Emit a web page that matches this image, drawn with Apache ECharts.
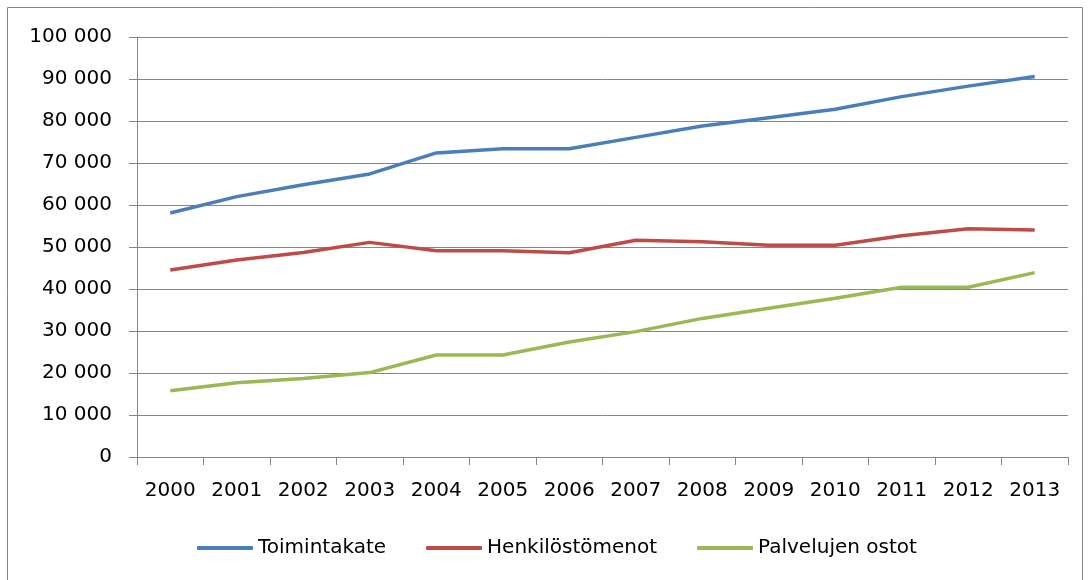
<!DOCTYPE html>
<html><head><meta charset="utf-8">
<script src="https://cdn.jsdelivr.net/npm/echarts@6/dist/echarts.min.js"></script>
<style>html,body{margin:0;padding:0;background:#fff}#c{width:1089px;height:580px}</style>
</head><body><div id="c"></div>
<script>
const years = ['2000','2001','2002','2003','2004','2005','2006','2007','2008','2009','2010','2011','2012','2013'];
const toimintakate = [58100, 62000, 64800, 67400, 72400, 73400, 73400, 76100, 78800, 80800, 82800, 85800, 88300, 90600];
const henkilostomenot = [44500, 46900, 48700, 51100, 49100, 49100, 48650, 51600, 51250, 50400, 50400, 52700, 54350, 54050];
const palvelujenOstot = [15800, 17700, 18700, 20100, 24300, 24300, 27400, 29850, 33000, 35400, 37800, 40400, 40400, 43900];
const seriesNames = ['Toimintakate', 'Henkilöstömenot', 'Palvelujen ostot'];
const colors = ['#4A7EBB', '#BE4B48', '#98B954'];

const fmt = v => String(v).replace(/\B(?=(\d{3})+(?!\d))/g, ' ');
const font = 'DejaVu Sans';
const chart = echarts.init(document.getElementById('c'), null, {renderer: 'canvas'});
const mk = (name, data, i) => ({
  name, type: 'line', data, symbol: 'none', smooth: false,
  lineStyle: {color: colors[i], width: 3.5}, itemStyle: {color: colors[i]}
});
chart.setOption({
  animation: false,
  textStyle: {fontFamily: font},
  graphic: [{type: 'rect', shape: {x: 7.5, y: 7.5, width: 1075, height: 600}, style: {fill: 'none', stroke: '#868686', lineWidth: 1}, silent: true}],
  grid: {left: 137, right: 21, top: 37, bottom: 123, containLabel: false},
  legend: {
    bottom: 22, left: 197, itemWidth: 56, itemHeight: 4, itemGap: 40,
    icon: 'roundRect', padding: 0,
    textStyle: {fontFamily: font, fontSize: 20, color: '#000'},
    data: seriesNames
  },
  xAxis: {
    type: 'category', data: years, boundaryGap: true,
    axisLine: {lineStyle: {color: '#868686', width: 1}},
    axisTick: {show: true, length: 8, lineStyle: {color: '#868686'}, alignWithLabel: false},
    axisLabel: {fontFamily: font, fontSize: 20, color: '#000', margin: 24}
  },
  yAxis: {
    type: 'value', min: 0, max: 100000, interval: 10000,
    axisLine: {show: true, lineStyle: {color: '#868686', width: 1}},
    axisTick: {show: true, length: 8, lineStyle: {color: '#868686'}},
    splitLine: {lineStyle: {color: '#868686', width: 1}},
    axisLabel: {fontFamily: font, fontSize: 20, color: '#000', margin: 25, formatter: fmt}
  },
  series: [mk(seriesNames[0], toimintakate, 0), mk(seriesNames[1], henkilostomenot, 1), mk(seriesNames[2], palvelujenOstot, 2)]
});
</script></body></html>
